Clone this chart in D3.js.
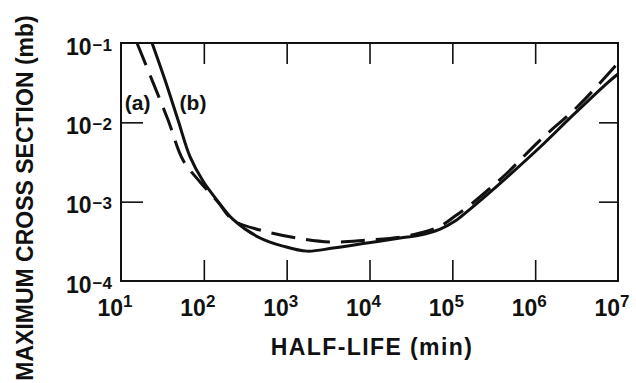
<!DOCTYPE html>
<html>
<head>
<meta charset="utf-8">
<script src="https://cdn.jsdelivr.net/npm/d3@7"></script>
<style>
  body { margin: 0; background: #fff; }
  svg { display: block; }
  text { font-family: "Liberation Sans", Arial, Helvetica, sans-serif; font-weight: bold; fill: #111; }
</style>
</head>
<body>
<svg id="chart" width="636" height="383"></svg>
<script>
// half-life (min) vs maximum cross section (mb)
const halfLifeA = [15.6, 23.7, 37, 56, 90, 148, 225, 478, 1340, 3630, 9350, 23400, 40800, 71300, 108000, 164000, 286000, 459000, 1150000, 3210000, 7410000, 1e7];
const sigmaA = [0.1, 0.0341, 0.0107, 0.00335, 0.00177, 0.00099, 0.000586, 0.000439, 0.000348, 0.00031, 0.000328, 0.000358, 0.000402, 0.000492, 0.000658, 0.000906, 0.00148, 0.0023, 0.00598, 0.0156, 0.0394, 0.056];

const halfLifeB = [23.7, 34, 48.8, 68.1, 97.7, 148, 225, 478, 906, 1760, 3630, 9350, 23400, 40800, 71300, 108000, 164000, 286000, 459000, 1150000, 2880000, 7410000, 1e7];
const sigmaB = [0.1, 0.0341, 0.0107, 0.0037, 0.00182, 0.00101, 0.000600, 0.000348, 0.000275, 0.000238, 0.00026, 0.000301, 0.000348, 0.000379, 0.000451, 0.000569, 0.000807, 0.00132, 0.00204, 0.00489, 0.0124, 0.0313, 0.0407];

const xExponents = [1, 2, 3, 4, 5, 6, 7];
const yExponents = [-1, -2, -3, -4];
const curveLabels = [{ text: "(a)", x: 11.1, y: 0.0145 }, { text: "(b)", x: 51, y: 0.0145 }];

const svg = d3.select("#chart");
const ink = "#111";

const x = d3.scaleLog().domain([1e1, 1e7]).range([121, 618]);
const y = d3.scaleLog().domain([1e-4, 1e-1]).range([281, 43]);

const innerX = xExponents.slice(1, -1).map(e => Math.pow(10, e));
const innerY = yExponents.slice(1, -1).map(e => Math.pow(10, e));

// inward ticks on all four sides
const addAxis = (axis, transform) => {
    const g = svg.append("g").attr("transform", transform).call(axis);
    g.select(".domain").remove();
    g.selectAll(".tick line").attr("stroke", ink).attr("stroke-width", 1.6);
    g.selectAll(".tick text").remove();
};
addAxis(d3.axisBottom(x).tickValues(innerX).tickSize(-21).tickFormat(""), "translate(0,281)");
addAxis(d3.axisTop(x).tickValues(innerX).tickSize(-21).tickFormat(""), "translate(0,43)");
addAxis(d3.axisLeft(y).tickValues(innerY).tickSize(-22).tickFormat(""), "translate(121,0)");
addAxis(d3.axisRight(y).tickValues(innerY).tickSize(-19).tickFormat(""), "translate(618,0)");

svg.append("rect")
    .attr("x", 121).attr("y", 43)
    .attr("width", 618 - 121).attr("height", 281 - 43)
    .attr("fill", "none").attr("stroke", ink).attr("stroke-width", 2);

svg.append("clipPath").attr("id", "plot-clip")
    .append("rect").attr("x", 121).attr("y", 42).attr("width", 497).attr("height", 240);

const line = d3.line()
    .x(d => x(d[0]))
    .y(d => y(d[1]))
    .curve(d3.curveCatmullRom.alpha(0.5));

const curves = svg.append("g").attr("clip-path", "url(#plot-clip)");
curves.append("path")
    .datum(halfLifeA.map((h, i) => [h, sigmaA[i]]))
    .attr("d", line)
    .attr("fill", "none").attr("stroke", ink).attr("stroke-width", 3)
    .attr("stroke-dasharray", "24,11");
curves.append("path")
    .datum(halfLifeB.map((h, i) => [h, sigmaB[i]]))
    .attr("d", line)
    .attr("fill", "none").attr("stroke", ink).attr("stroke-width", 3);

// tick labels with superscripts
const xl = svg.append("g").selectAll("text").data(xExponents).join("text")
    .attr("x", d => x(Math.pow(10, d)) - 6)
    .attr("y", 316)
    .attr("text-anchor", "middle")
    .style("font-size", "23px");
xl.append("tspan").text("10");
xl.append("tspan").attr("dy", -9).style("font-size", "17px").text(d => d);

const yl = svg.append("g").selectAll("text").data(yExponents).join("text")
    .attr("x", 112)
    .attr("y", d => y(Math.pow(10, d)) + 11.5)
    .attr("text-anchor", "end")
    .style("font-size", "23px");
yl.append("tspan").text("10");
yl.append("tspan").attr("dy", -4).attr("dx", 1).style("font-size", "17px").text(d => "\u2212" + Math.abs(d));

svg.append("g").selectAll("text").data(curveLabels).join("text")
    .attr("x", d => x(d.x))
    .attr("y", d => y(d.y))
    .style("font-size", "21px")
    .text(d => d.text);

svg.append("text")
    .attr("x", 372).attr("y", 355)
    .attr("text-anchor", "middle")
    .style("font-size", "23px")
    .style("letter-spacing", "1.4px")
    .text("HALF-LIFE (min)");

svg.append("text")
    .attr("transform", "translate(33,198) rotate(-90)")
    .attr("text-anchor", "middle")
    .style("font-size", "23px")
    .text("MAXIMUM CROSS SECTION (mb)");
</script>
</body>
</html>
